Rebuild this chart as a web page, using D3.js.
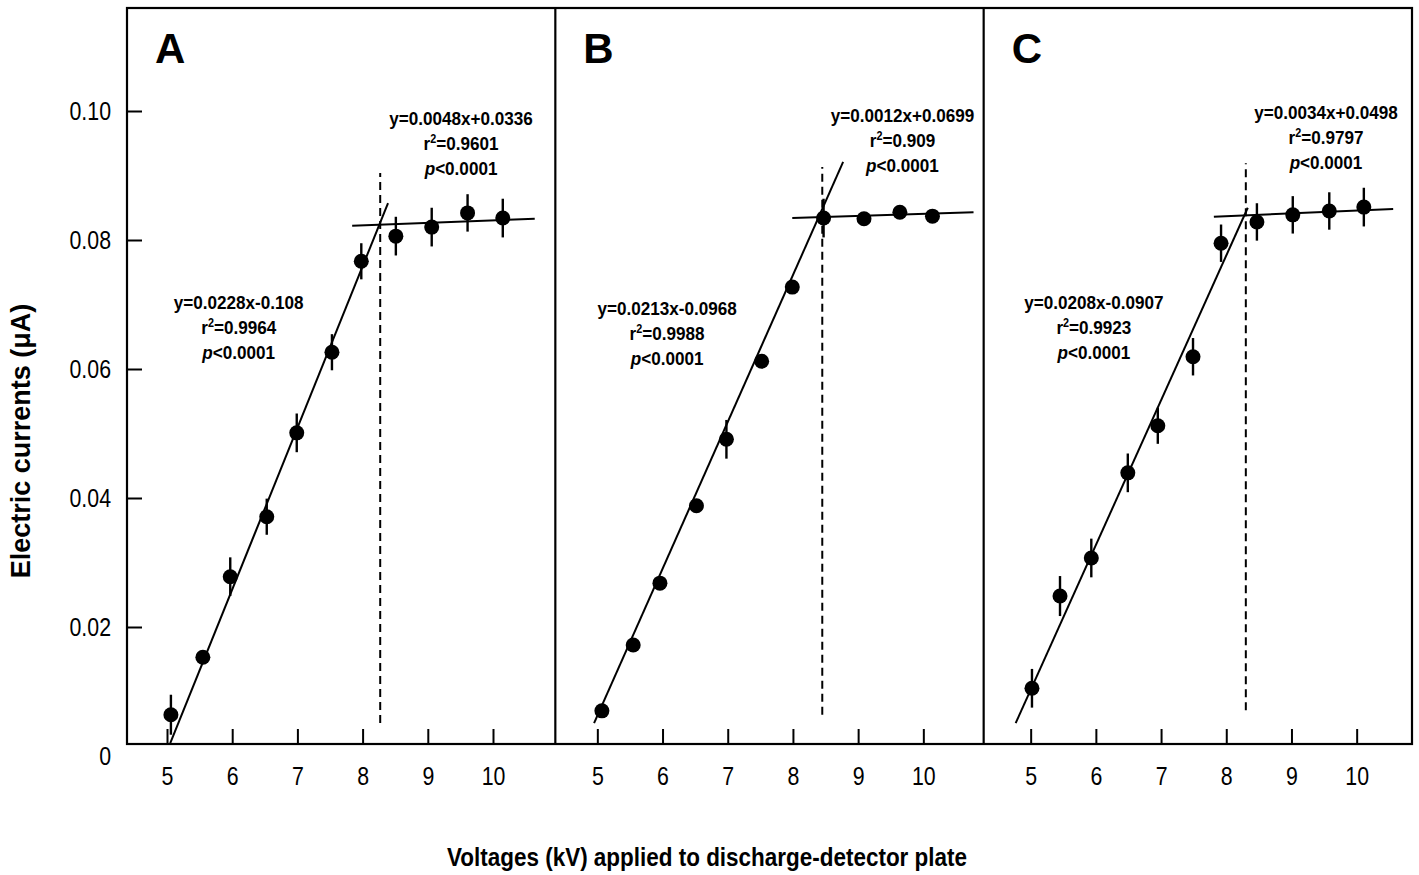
<!DOCTYPE html>
<html>
<head>
<meta charset="utf-8">
<script src="https://cdn.jsdelivr.net/npm/d3@7"></script>
<style>
  body { margin: 0; background: #fff; }
  text { font-family: "Liberation Sans", Arial, sans-serif; fill: #000; }
</style>
</head>
<body>
<div class="chart"></div>
<script>
var panelNames = ["A", "B", "C"];
var xTicks = [5, 6, 7, 8, 9, 10];
var yTicks = [0, 0.02, 0.04, 0.06, 0.08, 0.10];

// points (kV, uA, error)
var voltsA = [5.06, 5.55, 5.97, 6.53, 6.99, 7.53, 7.98, 8.51, 9.06, 9.61, 10.15];
var currentA = [0.0064, 0.0153, 0.0278, 0.0371, 0.0501, 0.0626, 0.0767, 0.0806, 0.0820, 0.0842, 0.0834];
var errA = [0.0031, 0.0010, 0.0030, 0.0028, 0.0030, 0.0028, 0.0028, 0.0030, 0.0030, 0.0029, 0.0030];

var voltsB = [5.07, 5.55, 5.96, 6.52, 6.98, 7.52, 7.99, 8.47, 9.09, 9.64, 10.14];
var currentB = [0.0070, 0.0172, 0.0268, 0.0388, 0.0491, 0.0612, 0.0727, 0.0834, 0.0833, 0.0843, 0.0837];
var errB = [0.0008, 0.0008, 0.0008, 0.0008, 0.0030, 0.0008, 0.0008, 0.0030, 0.0008, 0.0008, 0.0008];

var voltsC = [5.02, 5.45, 5.93, 6.49, 6.95, 7.49, 7.92, 8.47, 9.02, 9.58, 10.11];
var currentC = [0.0105, 0.0248, 0.0307, 0.0439, 0.0512, 0.0619, 0.0795, 0.0828, 0.0839, 0.0845, 0.0851];
var errC = [0.0030, 0.0031, 0.0030, 0.0030, 0.0028, 0.0029, 0.0029, 0.0029, 0.0029, 0.0029, 0.0030];

// regression lines as drawn, [x, y] end points
var steepA = [[5.05, 0.0020], [8.39, 0.0857]];
var flatA = [[7.84, 0.0822], [10.64, 0.0833]];
var steepB = [[4.95, 0.0051], [8.77, 0.0921]];
var flatB = [[7.99, 0.0834], [10.77, 0.0843]];
var steepC = [[4.77, 0.0051], [8.33, 0.0850]];
var flatC = [[7.81, 0.0836], [10.56, 0.0848]];

// break point: x, y bottom, y top
var breakA = [8.27, 0.0051, 0.0904];
var breakB = [8.45, 0.0064, 0.0913];
var breakC = [8.30, 0.0071, 0.0919];

var eqSteep = ["y=0.0228x-0.108", "y=0.0213x-0.0968", "y=0.0208x-0.0907"];
var r2Steep = ["0.9964", "0.9988", "0.9923"];
var eqFlat = ["y=0.0048x+0.0336", "y=0.0012x+0.0699", "y=0.0034x+0.0498"];
var r2Flat = ["0.9601", "0.909", "0.9797"];
var pText = "<0.0001";

// layout
var W = 1419, H = 875;
var frame = { left: 127, right: 1412, top: 8, bottom: 744 };
var panelW = (frame.right - frame.left) / 3;
var xOffset = [40, 42, 47];
var notePos = [
  { steep: [6.10, 0.0704], flat: [9.51, 0.0989] },
  { steep: [6.07, 0.0695], flat: [9.68, 0.0994] },
  { steep: [5.97, 0.0704], flat: [9.53, 0.0998] }
];

var panels = [
  { name: panelNames[0], x: voltsA, y: currentA, e: errA, steep: steepA, flat: flatA, brk: breakA },
  { name: panelNames[1], x: voltsB, y: currentB, e: errB, steep: steepB, flat: flatB, brk: breakB },
  { name: panelNames[2], x: voltsC, y: currentC, e: errC, steep: steepC, flat: flatC, brk: breakC }
];

var svg = d3.select(".chart").append("svg")
  .attr("width", W)
  .attr("height", H);

var y = d3.scaleLinear()
  .domain([0, 0.10])
  .range([756, 111]);

function squeeze(sel, k) {
  sel.each(function () {
    var w = this.getComputedTextLength();
    d3.select(this).attr("textLength", w * k).attr("lengthAdjust", "spacingAndGlyphs");
  });
}

// y axis on the first panel
var yAxis = svg.append("g")
  .attr("transform", "translate(" + frame.left + ",0)")
  .call(d3.axisLeft(y).tickValues(yTicks).tickSize(-15).tickSizeOuter(0).tickPadding(16)
    .tickFormat(function (d) { return d === 0 ? "0" : d3.format(".2f")(d); }));
yAxis.select(".domain").remove();
yAxis.selectAll(".tick line").attr("stroke-width", 2).filter(function (d) { return d === 0; }).remove();
yAxis.selectAll("text").attr("font-size", 26).attr("font-family", "Liberation Sans, Arial, sans-serif").call(squeeze, 0.82);

panels.forEach(function (p, i) {
  var left = frame.left + i * panelW;
  var x = d3.scaleLinear()
    .domain([5, 10])
    .range([left + xOffset[i], left + xOffset[i] + 326]);

  var xAxis = svg.append("g")
    .attr("transform", "translate(0," + frame.bottom + ")")
    .call(d3.axisBottom(x).tickValues(xTicks).tickSize(-15).tickSizeOuter(0).tickPadding(23)
      .tickFormat(d3.format("d")));
  xAxis.select(".domain").remove();
  xAxis.selectAll(".tick line").attr("stroke-width", 2);
  xAxis.selectAll("text").attr("font-size", 26).attr("font-family", "Liberation Sans, Arial, sans-serif").call(squeeze, 0.82);

  var g = svg.append("g");
  var pts = p.x.map(function (v, j) { return { x: v, y: p.y[j], e: p.e[j] }; });

  // error bars
  g.selectAll(".err")
    .data(pts)
    .enter().append("line")
    .attr("x1", function (d) { return x(d.x); })
    .attr("x2", function (d) { return x(d.x); })
    .attr("y1", function (d) { return y(d.y - d.e); })
    .attr("y2", function (d) { return y(d.y + d.e); })
    .attr("stroke", "#000")
    .attr("stroke-width", 2.4);

  // fitted lines
  [p.steep, p.flat].forEach(function (seg) {
    g.append("line")
      .attr("x1", x(seg[0][0])).attr("y1", y(seg[0][1]))
      .attr("x2", x(seg[1][0])).attr("y2", y(seg[1][1]))
      .attr("stroke", "#000")
      .attr("stroke-width", 2);
  });

  // break point
  g.append("line")
    .attr("x1", x(p.brk[0])).attr("x2", x(p.brk[0]))
    .attr("y1", y(p.brk[1])).attr("y2", y(p.brk[2]))
    .attr("stroke", "#000")
    .attr("stroke-width", 2)
    .attr("stroke-dasharray", "8,5");

  g.selectAll(".dot")
    .data(pts)
    .enter().append("circle")
    .attr("cx", function (d) { return x(d.x); })
    .attr("cy", function (d) { return y(d.y); })
    .attr("r", 7.5)
    .attr("fill", "#000");

  // panel letter
  svg.append("text")
    .attr("x", left + 28)
    .attr("y", 63)
    .attr("font-size", 42)
    .attr("font-weight", "bold")
    .text(p.name);

  // equations
  var notes = [
    { pos: notePos[i].steep, eq: eqSteep[i], r2: r2Steep[i] },
    { pos: notePos[i].flat, eq: eqFlat[i], r2: r2Flat[i] }
  ];
  notes.forEach(function (n) {
    var cx = x(n.pos[0]), cy = y(n.pos[1]);
    var t = svg.append("g")
      .attr("font-size", 19)
      .attr("font-weight", "bold")
      .attr("text-anchor", "middle");
    t.append("text")
      .attr("x", cx).attr("y", cy).attr("dy", "0.36em")
      .text(n.eq).call(squeeze, 0.9);
    var r = t.append("text")
      .attr("x", cx).attr("y", cy + 25).attr("dy", "0.36em");
    r.append("tspan").text("r");
    r.append("tspan").attr("font-size", 12).attr("dy", -7).text("2");
    r.append("tspan").attr("dy", 7).text("=" + n.r2);
    r.call(squeeze, 0.9);
    var pt = t.append("text")
      .attr("x", cx).attr("y", cy + 50).attr("dy", "0.36em");
    pt.append("tspan").attr("font-style", "italic").text("p");
    pt.append("tspan").text(pText);
    pt.call(squeeze, 0.9);
  });
});

// frame and panel separators
svg.append("rect")
  .attr("x", frame.left).attr("y", frame.top)
  .attr("width", frame.right - frame.left)
  .attr("height", frame.bottom - frame.top)
  .attr("fill", "none")
  .attr("stroke", "#000")
  .attr("stroke-width", 2.2);
[1, 2].forEach(function (k) {
  svg.append("line")
    .attr("x1", frame.left + k * panelW).attr("x2", frame.left + k * panelW)
    .attr("y1", frame.top).attr("y2", frame.bottom)
    .attr("stroke", "#000")
    .attr("stroke-width", 2.2);
});

// axis titles
svg.append("text")
  .attr("transform", "translate(30,441) rotate(-90)")
  .attr("text-anchor", "middle")
  .attr("font-size", 27)
  .attr("font-weight", "bold")
  .text("Electric currents (\u03bcA)");

svg.append("text")
  .attr("x", 707)
  .attr("y", 866)
  .attr("text-anchor", "middle")
  .attr("font-size", 25)
  .attr("font-weight", "bold")
  .attr("textLength", 520)
  .attr("lengthAdjust", "spacingAndGlyphs")
  .text("Voltages (kV) applied to discharge-detector plate");
</script>
</body>
</html>
